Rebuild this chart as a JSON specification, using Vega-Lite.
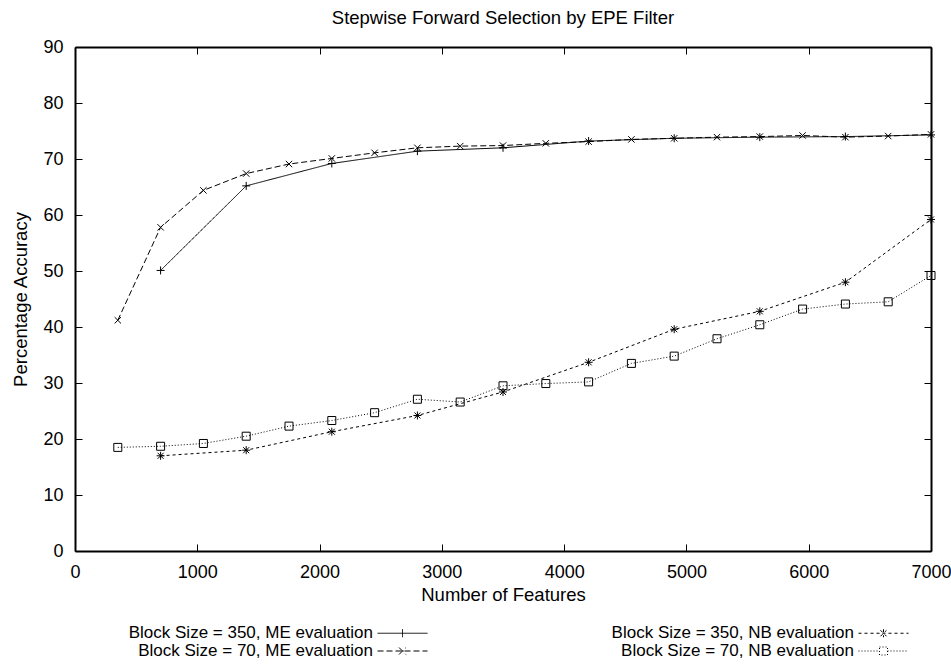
{
  "$schema": "https://vega.github.io/schema/vega-lite/v6.json",
  "width": 856,
  "height": 504,
  "autosize": "none",
  "padding": {"left": 75, "top": 47, "right": 20, "bottom": 113},
  "background": "white",
  "config": {
    "font": "Liberation Sans",
    "view": {"stroke": null},
    "axis": {"grid": false, "domainColor": "#000", "domainWidth": 2, "tickColor": "#000", "tickWidth": 1, "labelColor": "#000", "titleColor": "#000", "labelFont": "Liberation Sans", "titleFont": "Liberation Sans", "labelFontSize": 18, "titleFontSize": 18.5, "titleFontWeight": "normal", "labelFlush": false, "labelOverlap": false},
    "legend": {"title": null, "orient": "none", "legendX": 303, "legendY": 577.5, "columns": 2, "columnPadding": 181, "rowPadding": 0,
      "labelFontSize": 17, "labelFont": "Liberation Sans", "labelColor": "#000", "labelAlign": "right", "labelOffset": -38, "labelLimit": 400,
      "symbolSize": 100, "symbolOffset": 16, "symbolStrokeWidth": 1, "symbolStrokeColor": "#000", "symbolFillColor": "transparent", "symbolOpacity": 1}
  },
  "title": {"text": "Stepwise Forward Selection by EPE Filter", "fontSize": 18.5, "fontWeight": "normal", "font": "Liberation Sans", "color": "#000", "offset": 11},
  "data": {"values": [
    {"series": "Block Size = 350, ME evaluation", "x": 700, "y": 50.1},
    {"series": "Block Size = 350, ME evaluation", "x": 1400, "y": 65.2},
    {"series": "Block Size = 350, ME evaluation", "x": 2100, "y": 69.2},
    {"series": "Block Size = 350, ME evaluation", "x": 2800, "y": 71.4},
    {"series": "Block Size = 350, ME evaluation", "x": 3500, "y": 72.0},
    {"series": "Block Size = 350, ME evaluation", "x": 4200, "y": 73.2},
    {"series": "Block Size = 350, ME evaluation", "x": 4900, "y": 73.7},
    {"series": "Block Size = 350, ME evaluation", "x": 5600, "y": 73.9},
    {"series": "Block Size = 350, ME evaluation", "x": 6300, "y": 74.0},
    {"series": "Block Size = 350, ME evaluation", "x": 7000, "y": 74.3},
    {"series": "Block Size = 70, ME evaluation", "x": 350, "y": 41.2},
    {"series": "Block Size = 70, ME evaluation", "x": 700, "y": 57.8},
    {"series": "Block Size = 70, ME evaluation", "x": 1050, "y": 64.4},
    {"series": "Block Size = 70, ME evaluation", "x": 1400, "y": 67.4},
    {"series": "Block Size = 70, ME evaluation", "x": 1750, "y": 69.1},
    {"series": "Block Size = 70, ME evaluation", "x": 2100, "y": 70.1},
    {"series": "Block Size = 70, ME evaluation", "x": 2450, "y": 71.1},
    {"series": "Block Size = 70, ME evaluation", "x": 2800, "y": 72.0},
    {"series": "Block Size = 70, ME evaluation", "x": 3150, "y": 72.3},
    {"series": "Block Size = 70, ME evaluation", "x": 3500, "y": 72.4},
    {"series": "Block Size = 70, ME evaluation", "x": 3850, "y": 72.8},
    {"series": "Block Size = 70, ME evaluation", "x": 4200, "y": 73.1},
    {"series": "Block Size = 70, ME evaluation", "x": 4550, "y": 73.5},
    {"series": "Block Size = 70, ME evaluation", "x": 4900, "y": 73.7},
    {"series": "Block Size = 70, ME evaluation", "x": 5250, "y": 73.9},
    {"series": "Block Size = 70, ME evaluation", "x": 5600, "y": 74.0},
    {"series": "Block Size = 70, ME evaluation", "x": 5950, "y": 74.2},
    {"series": "Block Size = 70, ME evaluation", "x": 6300, "y": 73.9},
    {"series": "Block Size = 70, ME evaluation", "x": 6650, "y": 74.1},
    {"series": "Block Size = 70, ME evaluation", "x": 7000, "y": 74.4},
    {"series": "Block Size = 350, NB evaluation", "x": 700, "y": 17.0},
    {"series": "Block Size = 350, NB evaluation", "x": 1400, "y": 18.0},
    {"series": "Block Size = 350, NB evaluation", "x": 2100, "y": 21.3},
    {"series": "Block Size = 350, NB evaluation", "x": 2800, "y": 24.2},
    {"series": "Block Size = 350, NB evaluation", "x": 3500, "y": 28.4},
    {"series": "Block Size = 350, NB evaluation", "x": 4200, "y": 33.7},
    {"series": "Block Size = 350, NB evaluation", "x": 4900, "y": 39.6},
    {"series": "Block Size = 350, NB evaluation", "x": 5600, "y": 42.8},
    {"series": "Block Size = 350, NB evaluation", "x": 6300, "y": 48.0},
    {"series": "Block Size = 350, NB evaluation", "x": 7000, "y": 59.2},
    {"series": "Block Size = 70, NB evaluation", "x": 350, "y": 18.5},
    {"series": "Block Size = 70, NB evaluation", "x": 700, "y": 18.7},
    {"series": "Block Size = 70, NB evaluation", "x": 1050, "y": 19.2},
    {"series": "Block Size = 70, NB evaluation", "x": 1400, "y": 20.5},
    {"series": "Block Size = 70, NB evaluation", "x": 1750, "y": 22.3},
    {"series": "Block Size = 70, NB evaluation", "x": 2100, "y": 23.3},
    {"series": "Block Size = 70, NB evaluation", "x": 2450, "y": 24.7},
    {"series": "Block Size = 70, NB evaluation", "x": 2800, "y": 27.1},
    {"series": "Block Size = 70, NB evaluation", "x": 3150, "y": 26.6},
    {"series": "Block Size = 70, NB evaluation", "x": 3500, "y": 29.5},
    {"series": "Block Size = 70, NB evaluation", "x": 3850, "y": 29.9},
    {"series": "Block Size = 70, NB evaluation", "x": 4200, "y": 30.2},
    {"series": "Block Size = 70, NB evaluation", "x": 4550, "y": 33.5},
    {"series": "Block Size = 70, NB evaluation", "x": 4900, "y": 34.8},
    {"series": "Block Size = 70, NB evaluation", "x": 5250, "y": 37.9},
    {"series": "Block Size = 70, NB evaluation", "x": 5600, "y": 40.4},
    {"series": "Block Size = 70, NB evaluation", "x": 5950, "y": 43.2},
    {"series": "Block Size = 70, NB evaluation", "x": 6300, "y": 44.1},
    {"series": "Block Size = 70, NB evaluation", "x": 6650, "y": 44.5},
    {"series": "Block Size = 70, NB evaluation", "x": 7000, "y": 49.2}
  ]},
  "resolve": {"axis": {"x": "independent", "y": "independent"}, "scale": {"shape": "independent", "strokeDash": "independent"}},
  "layer": [
    {
      "mark": {"type": "line", "stroke": "#000", "strokeWidth": 1},
      "encoding": {
        "x": {"field": "x", "type": "quantitative", "scale": {"domain": [0, 7000], "nice": false},
              "axis": {"orient": "bottom", "values": [0, 1000, 2000, 3000, 4000, 5000, 6000, 7000], "format": "d", "title": "Number of Features", "tickSize": -7, "labelPadding": 19, "titlePadding": 4}},
        "y": {"field": "y", "type": "quantitative", "scale": {"domain": [0, 90], "nice": false},
              "axis": {"orient": "left", "values": [0, 10, 20, 30, 40, 50, 60, 70, 80, 90], "title": "Percentage Accuracy", "tickSize": -7, "labelPadding": 19, "titlePadding": 12}},
        "order": {"field": "x", "type": "quantitative"},
        "strokeDash": {"field": "series", "type": "nominal", "legend": null,
          "scale": {"domain": ["Block Size = 350, ME evaluation", "Block Size = 70, ME evaluation", "Block Size = 350, NB evaluation", "Block Size = 70, NB evaluation"],
                    "range": [[1, 0], [6, 3], [3, 3], [1, 2]]}}
      }
    },
    {
      "mark": {"type": "point", "filled": false, "stroke": "#000", "strokeWidth": 1, "size": 64, "opacity": 1},
      "encoding": {
        "x": {"field": "x", "type": "quantitative",
              "axis": {"orient": "top", "values": [0, 1000, 2000, 3000, 4000, 5000, 6000, 7000], "labels": false, "title": null, "tickSize": -7}},
        "y": {"field": "y", "type": "quantitative",
              "axis": {"orient": "right", "values": [0, 10, 20, 30, 40, 50, 60, 70, 80, 90], "labels": false, "title": null, "tickSize": -7}},
        "shape": {"field": "series", "type": "nominal", "legend": null,
          "scale": {"domain": ["Block Size = 350, ME evaluation", "Block Size = 70, ME evaluation", "Block Size = 350, NB evaluation", "Block Size = 70, NB evaluation"],
                    "range": ["M-1,0L1,0M0,-1L0,1", "M-0.8,-0.8L0.8,0.8M-0.8,0.8L0.8,-0.8", "M-1,0L1,0M0,-1L0,1M-0.75,-0.75L0.75,0.75M-0.75,0.75L0.75,-0.75", "square"]}}
      }
    },
    {
      "mark": {"type": "point", "filled": false, "stroke": "#000", "strokeWidth": 1, "opacity": 0},
      "encoding": {
        "x": {"field": "x", "type": "quantitative", "axis": null},
        "y": {"field": "y", "type": "quantitative", "axis": null},
        "shape": {"field": "series", "type": "nominal",
          "scale": {"domain": ["Block Size = 350, ME evaluation", "Block Size = 70, ME evaluation", "Block Size = 350, NB evaluation", "Block Size = 70, NB evaluation"],
                    "range": ["M-5,0L5,0M0,-0.8L0,0.8", "M-5,0L5,0M-0.7,-0.7L0.7,0.7M-0.7,0.7L0.7,-0.7", "M-5,0L5,0M0,-0.8L0,0.8M-0.6,-0.6L0.6,0.6M-0.6,0.6L0.6,-0.6", "M-5,0L-0.8,0M0.8,0L5,0M-0.8,-0.8L0.8,-0.8L0.8,0.8L-0.8,0.8Z"]},
          "legend": {}},
        "strokeDash": {"field": "series", "type": "nominal",
          "scale": {"domain": ["Block Size = 350, ME evaluation", "Block Size = 70, ME evaluation", "Block Size = 350, NB evaluation", "Block Size = 70, NB evaluation"],
                    "range": [[1, 0], [6, 3], [3, 3], [1, 2]]},
          "legend": {}}
      }
    }
  ]
}
